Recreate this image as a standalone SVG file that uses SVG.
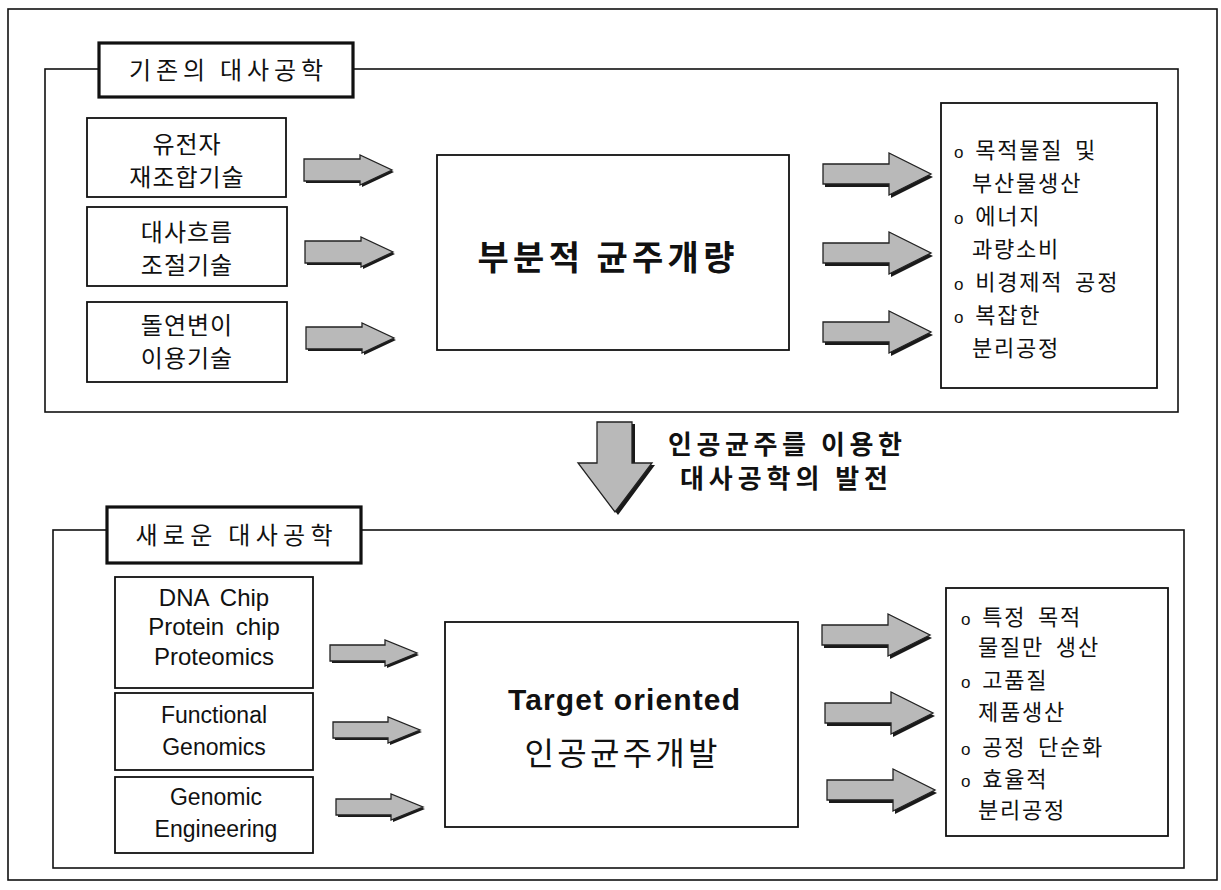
<svg xmlns="http://www.w3.org/2000/svg" width="1221" height="890" viewBox="0 0 1221 890">
<style>
.frame{fill:none;stroke:#111;stroke-width:1.6}
.box{fill:#fff;stroke:#111;stroke-width:1.8}
.title{fill:#fff;stroke:#111;stroke-width:3.2}
.kr{font-family:"Noto Sans CJK KR","Liberation Sans",sans-serif;fill:#111}
.en{font-family:"Liberation Sans","Noto Sans CJK KR",sans-serif;fill:#111}
.arr{fill:#b9b9b9;stroke:#222;stroke-width:1.3}
.shd{fill:#1a1a1a}
.lbl{font-size:24px;text-anchor:middle;letter-spacing:1px}
.rt{font-size:22px;letter-spacing:1.8px;word-spacing:5px}
.bul{font-family:"Liberation Sans",sans-serif;font-size:17px;letter-spacing:0}
</style>
<defs>
<path id="aL" d="M0,-11 H56 V-15 L88,0 L56,15 V11 H0 Z"/>
<path id="aR" d="M0,-10 H66 V-21 L108,0 L66,21 V10 H0 Z"/>
<path id="aS" d="M0,-8 H55 V-13 L87,0 L55,13 V8 H0 Z"/>
</defs>
<rect x="0" y="0" width="1221" height="890" fill="#fff"/>
<rect class="frame" x="8" y="9" width="1209" height="871"/>

<g id="frame-old"><rect class="frame" x="45" y="69" width="1133" height="343"/></g>
<g id="frame-new"><rect class="frame" x="53" y="530" width="1131" height="338"/></g>

<g id="title-old">
<rect class="title" x="99" y="43" width="254" height="54"/>
<text class="kr" x="226" y="79" font-size="24" text-anchor="middle" textLength="194" lengthAdjust="spacing">기존의 대사공학</text>
</g>
<g id="n-gene">
<rect class="box" x="87" y="118" width="199" height="79"/>
<text class="kr lbl" x="187" y="153">유전자</text>
<text class="kr lbl" x="187" y="186">재조합기술</text>
</g>
<g id="n-flux">
<rect class="box" x="87" y="207" width="200" height="79"/>
<text class="kr lbl" x="187" y="241">대사흐름</text>
<text class="kr lbl" x="187" y="274">조절기술</text>
</g>
<g id="n-mut">
<rect class="box" x="87" y="302" width="200" height="80"/>
<text class="kr lbl" x="187" y="334">돌연변이</text>
<text class="kr lbl" x="187" y="367">이용기술</text>
</g>
<g id="n-partial">
<rect class="box" x="437" y="155" width="352" height="195"/>
<text class="kr" x="606" y="270" font-size="34" font-weight="bold" text-anchor="middle" textLength="257" lengthAdjust="spacing">부분적 균주개량</text>
</g>
<g id="n-old-result">
<rect class="box" x="941" y="103" width="216" height="285"/>
<text class="kr rt" x="954" y="158"><tspan class="bul">o</tspan> 목적물질 및</text>
<text class="kr rt" x="972" y="191">부산물생산</text>
<text class="kr rt" x="954" y="224"><tspan class="bul">o</tspan> 에너지</text>
<text class="kr rt" x="972" y="257">과량소비</text>
<text class="kr rt" x="954" y="290"><tspan class="bul">o</tspan> 비경제적 공정</text>
<text class="kr rt" x="954" y="323"><tspan class="bul">o</tspan> 복잡한</text>
<text class="kr rt" x="972" y="356">분리공정</text>
</g>

<g id="n-transition">
<text class="kr" x="668" y="454" font-size="26" font-weight="bold" textLength="234" lengthAdjust="spacing">인공균주를 이용한</text>
<text class="kr" x="680" y="488" font-size="26" font-weight="bold" textLength="208" lengthAdjust="spacing">대사공학의 발전</text>
</g>

<g id="title-new">
<rect class="title" x="107" y="507" width="254" height="56"/>
<text class="kr" x="234" y="544" font-size="24" text-anchor="middle" textLength="197" lengthAdjust="spacing">새로운 대사공학</text>
</g>
<g id="n-chip">
<rect class="box" x="115" y="577" width="198" height="111"/>
<text class="en" x="214" y="606" font-size="24" text-anchor="middle" word-spacing="5">DNA Chip</text>
<text class="en" x="214" y="635" font-size="24" text-anchor="middle" word-spacing="5">Protein chip</text>
<text class="en" x="214" y="665" font-size="24" text-anchor="middle">Proteomics</text>
</g>
<g id="n-func">
<rect class="box" x="115" y="693" width="198" height="77"/>
<text class="en" x="214" y="723" font-size="23" text-anchor="middle">Functional</text>
<text class="en" x="214" y="755" font-size="23" text-anchor="middle">Genomics</text>
</g>
<g id="n-geneng">
<rect class="box" x="115" y="777" width="198" height="76"/>
<text class="en" x="216" y="805" font-size="23" text-anchor="middle">Genomic</text>
<text class="en" x="216" y="837" font-size="23" text-anchor="middle">Engineering</text>
</g>
<g id="n-target">
<rect class="box" x="445" y="622" width="353" height="205"/>
<text class="en" x="624" y="710" font-size="30" font-weight="bold" text-anchor="middle" textLength="232" lengthAdjust="spacing">Target oriented</text>
<text class="kr" x="621" y="765" font-size="32" text-anchor="middle" textLength="193" lengthAdjust="spacing">인공균주개발</text>
</g>
<g id="n-new-result">
<rect class="box" x="946" y="588" width="222" height="248"/>
<text class="kr rt" x="961" y="625"><tspan class="bul">o</tspan> 특정 목적</text>
<text class="kr rt" x="978" y="655">물질만 생산</text>
<text class="kr rt" x="961" y="688"><tspan class="bul">o</tspan> 고품질</text>
<text class="kr rt" x="978" y="720">제품생산</text>
<text class="kr rt" x="961" y="755"><tspan class="bul">o</tspan> 공정 단순화</text>
<text class="kr rt" x="961" y="787"><tspan class="bul">o</tspan> 효율적</text>
<text class="kr rt" x="978" y="818">분리공정</text>
</g>

<g id="connectors">
<use href="#aL" class="shd" x="306" y="172"/><use href="#aL" class="arr" x="304" y="170"/>
<use href="#aL" class="shd" x="307" y="254"/><use href="#aL" class="arr" x="305" y="252"/>
<use href="#aL" class="shd" x="308" y="340"/><use href="#aL" class="arr" x="306" y="338"/>
<use href="#aR" class="shd" x="825" y="177"/><use href="#aR" class="arr" x="823" y="174"/>
<use href="#aR" class="shd" x="825" y="256"/><use href="#aR" class="arr" x="823" y="253"/>
<use href="#aR" class="shd" x="825" y="335"/><use href="#aR" class="arr" x="823" y="332"/>
<path class="shd" d="M600,424 H635 V465 H655 L618,515 L581,465 H600 Z"/>
<path class="arr" d="M597,422 H632 V463 H652 L615,512 L578,463 H597 Z"/>
<use href="#aS" class="shd" x="332" y="655"/><use href="#aS" class="arr" x="330" y="653"/>
<use href="#aS" class="shd" x="335" y="732"/><use href="#aS" class="arr" x="333" y="730"/>
<use href="#aS" class="shd" x="338" y="809"/><use href="#aS" class="arr" x="336" y="807"/>
<use href="#aR" class="shd" x="824" y="638"/><use href="#aR" class="arr" x="822" y="635"/>
<use href="#aR" class="shd" x="827" y="716"/><use href="#aR" class="arr" x="825" y="713"/>
<use href="#aR" class="shd" x="829" y="793"/><use href="#aR" class="arr" x="827" y="790"/>
</g>
</svg>
